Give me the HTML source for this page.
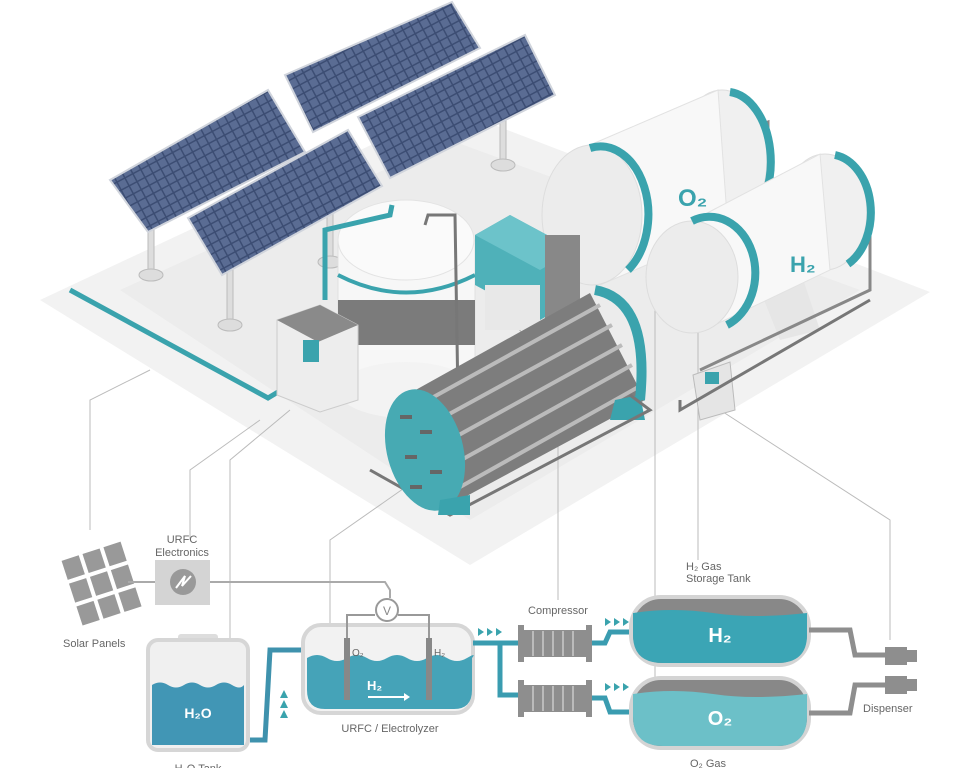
<!DOCTYPE html>
<html><head><meta charset="utf-8"><style>
html,body{margin:0;padding:0;background:#fff;}
svg{display:block;font-family:"Liberation Sans",sans-serif;}
</style></head><body>
<svg width="960" height="768" viewBox="0 0 960 768" xmlns="http://www.w3.org/2000/svg">
<defs>
<pattern id="cells" width="9" height="9" patternUnits="userSpaceOnUse" patternTransform="rotate(-28)">
<rect width="9" height="9" fill="#3c4d73"/><rect x="0.5" y="0.5" width="7.5" height="7.5" fill="#5a6c93"/>
</pattern>
</defs>
<polygon points="40,300 450,108 930,292 470,565" fill="#f2f2f2"/>
<polygon points="120,290 450,140 860,290 470,520" fill="#ececec"/>
<g stroke="#bbb" stroke-width="1" fill="none">
<polyline points="90,530 90,400 150,370"/>
<polyline points="230,655 230,460 290,410"/>
<polyline points="330,630 330,540 430,470"/>
<polyline points="558,600 558,370 510,320"/>
<line x1="655" y1="200" x2="655" y2="690"/>
<line x1="698" y1="290" x2="698" y2="560"/>
<polyline points="890,640 890,520 720,410"/>
<polyline points="190,540 190,470 260,420"/>
</g>
<g fill="#ddd" stroke="#bbb">
<rect x="148" y="230" width="6" height="45"/><ellipse cx="151" cy="275" rx="12" ry="6"/>
<rect x="227" y="270" width="6" height="55"/><ellipse cx="230" cy="325" rx="12" ry="6"/>
<rect x="327" y="200" width="6" height="60"/><ellipse cx="330" cy="262" rx="12" ry="6"/>
<rect x="500" y="110" width="6" height="55"/><ellipse cx="503" cy="165" rx="12" ry="6"/>
</g>
<g stroke="#d0d4dc" stroke-width="2">
<polygon points="110,180 268,90 305,152 148,232" fill="url(#cells)"/>
<polygon points="285,75 452,2 480,48 313,132" fill="url(#cells)"/>
<polygon points="188,218 348,130 382,186 222,275" fill="url(#cells)"/>
<polygon points="358,117 525,35 555,95 390,178" fill="url(#cells)"/>
</g>
<polyline points="70,290 268,398 278,392" fill="none" stroke="#3aa3ad" stroke-width="5"/>
<!-- O2 tank -->
<polyline points="760,125 768,122 768,220" fill="none" stroke="#888" stroke-width="3"/>
<ellipse cx="722" cy="160" rx="45" ry="70" fill="#f0f0f0" stroke="#ddd"/>
<polygon points="590,145 718,90 728,230 600,285" fill="#f8f8f8" stroke="#e2e2e2"/>
<path d="M730,92 A45,70 0 0 1 745,225" fill="none" stroke="#3aa3ad" stroke-width="8"/>
<ellipse cx="592" cy="215" rx="50" ry="70" fill="#ececec" stroke="#ddd"/>
<path d="M590,148 A48,68 0 0 1 628,270" fill="none" stroke="#3aa3ad" stroke-width="8"/>
<text x="678" y="206" font-size="24" font-weight="bold" fill="#3aa3ad">O₂</text>
<!-- H2 tank -->
<polygon points="760,290 800,270 820,330 780,340" fill="#e6e6e6"/>
<polyline points="858,190 870,190 870,290 700,370" fill="none" stroke="#888" stroke-width="3"/>
<ellipse cx="825" cy="212" rx="42" ry="58" fill="#f0f0f0" stroke="#ddd"/>
<polygon points="690,222 820,154 830,270 700,332" fill="#f8f8f8" stroke="#e2e2e2"/>
<path d="M835,155 A42,58 0 0 1 848,264" fill="none" stroke="#3aa3ad" stroke-width="8"/>
<ellipse cx="692" cy="277" rx="46" ry="56" fill="#ececec" stroke="#ddd"/>
<path d="M692,221 A44,54 0 0 1 727,325" fill="none" stroke="#3aa3ad" stroke-width="8"/>
<text x="790" y="272" font-size="22" font-weight="bold" fill="#3aa3ad">H₂</text>
<!-- central tank -->
<rect x="338" y="240" width="137" height="150" fill="#f7f7f7" stroke="#e0e0e0"/>
<ellipse cx="406" cy="390" rx="68" ry="28" fill="#f3f3f3"/>
<rect x="338" y="300" width="137" height="45" fill="#7b7b7b"/>
<ellipse cx="406" cy="240" rx="68" ry="40" fill="#fafafa" stroke="#e3e3e3"/>
<path d="M338,275 Q406,310 475,275" fill="none" stroke="#3aa3ad" stroke-width="4"/>
<polyline points="325,300 325,230 390,215 392,205" fill="none" stroke="#3aa3ad" stroke-width="5"/>
<polyline points="425,225 428,215 455,215 458,400" fill="none" stroke="#777" stroke-width="3"/>
<!-- teal box -->
<polygon points="475,235 510,215 575,250 575,300 540,320 475,285" fill="#4fb1b9"/>
<polygon points="475,235 510,215 575,250 540,270" fill="#6cc3ca"/>
<rect x="545" y="235" width="35" height="90" fill="#888"/>
<rect x="485" y="285" width="55" height="45" fill="#e8e8e8"/>
<!-- cabinet -->
<polygon points="277,320 320,305 358,325 358,400 320,412 277,395" fill="#ededed" stroke="#ccc"/>
<polygon points="277,320 320,305 358,325 318,342" fill="#8a8a8a"/>
<rect x="303" y="340" width="16" height="22" fill="#3aa3ad"/>
<!-- electrolyzer -->
<polygon points="403,397 590,293 645,400 450,505" fill="#7d7d7d"/>
<g stroke="#bbb" stroke-width="4">
<line x1="410" y1="410" x2="600" y2="305"/><line x1="420" y1="430" x2="612" y2="325"/>
<line x1="428" y1="452" x2="622" y2="345"/><line x1="436" y1="474" x2="632" y2="365"/>
<line x1="444" y1="496" x2="640" y2="386"/>
</g>
<path d="M595,290 Q650,300 640,400" fill="none" stroke="#3aa3ad" stroke-width="10"/>
<polygon points="615,400 640,395 645,420 610,420" fill="#3aa3ad"/>
<polyline points="370,470 450,515 650,410 630,395" fill="none" stroke="#777" stroke-width="3"/>
<ellipse cx="425" cy="450" rx="38" ry="62" transform="rotate(-15 425 450)" fill="#47aab3"/>
<polygon points="440,500 470,495 470,515 438,515" fill="#3aa3ad"/>
<g fill="#666"><rect x="400" y="415" width="12" height="4"/><rect x="420" y="430" width="12" height="4"/><rect x="405" y="455" width="12" height="4"/><rect x="430" y="470" width="12" height="4"/><rect x="410" y="485" width="12" height="4"/></g>
<!-- dispenser panel -->
<polygon points="693,375 730,362 735,410 700,420" fill="#e5e5e5" stroke="#bbb"/>
<rect x="705" y="372" width="14" height="12" fill="#3aa3ad"/>
<polyline points="680,400 680,410 870,300" fill="none" stroke="#777" stroke-width="3"/>

<!-- ===== bottom diagram ===== -->
<g fill="#999">
<g transform="rotate(-18 100 582)">
<rect x="70" y="550" width="18" height="20"/><rect x="92" y="550" width="18" height="20"/><rect x="114" y="550" width="18" height="20"/>
<rect x="70" y="574" width="18" height="20"/><rect x="92" y="574" width="18" height="20"/><rect x="114" y="574" width="18" height="20"/>
<rect x="70" y="598" width="18" height="20"/><rect x="92" y="598" width="18" height="20"/><rect x="114" y="598" width="18" height="20"/>
</g></g>
<text x="63" y="647" font-size="11" fill="#666">Solar Panels</text>
<text x="182" y="543" font-size="11" fill="#666" text-anchor="middle">URFC</text>
<text x="182" y="556" font-size="11" fill="#666" text-anchor="middle">Electronics</text>
<polyline points="128,582 385,582 390,590 390,598" fill="none" stroke="#aaa" stroke-width="2"/>
<rect x="155" y="560" width="55" height="45" fill="#d4d4d4"/>
<circle cx="183" cy="582" r="13" fill="#999"/>
<polyline points="176,588 185,576 182,586 191,576" fill="none" stroke="#fff" stroke-width="2"/>
<rect x="178" y="634" width="40" height="10" rx="3" fill="#ddd"/>
<rect x="148" y="640" width="100" height="110" rx="10" fill="#f0f0f0" stroke="#d6d6d6" stroke-width="4"/>
<path d="M152,685 q8,-5 16,0 t16,0 t16,0 t16,0 t16,0 t12,0 V745 H152 Z" fill="#4196b5"/>
<text x="198" y="718" font-size="14" font-weight="bold" fill="#fff" text-anchor="middle">H₂O</text>
<text x="198" y="772" font-size="11" fill="#666" text-anchor="middle">H₂O Tank</text>
<polyline points="250,740 265,740 270,650 305,650" fill="none" stroke="#3f92ad" stroke-width="5"/>
<g fill="#3aa3ad"><polygon points="284,690 288,698 280,698"/><polygon points="284,700 288,708 280,708"/><polygon points="284,710 288,718 280,718"/></g>
<rect x="303" y="625" width="170" height="88" rx="18" fill="#f2f2f2" stroke="#d6d6d6" stroke-width="4"/>
<path d="M307,658 q10,-6 20,0 t20,0 t20,0 t20,0 t20,0 t20,0 t20,0 t20,0 t5,0 V690 q0,19 -18,19 H325 q-18,0 -18,-19 Z" fill="#45a3b8"/>
<polyline points="347,655 347,615 375,615" fill="none" stroke="#999" stroke-width="2"/>
<polyline points="429,655 429,615 398,615" fill="none" stroke="#999" stroke-width="2"/>
<circle cx="387" cy="610" r="11" fill="#fff" stroke="#999" stroke-width="2"/>
<text x="387" y="615" font-size="12" fill="#888" text-anchor="middle">V</text>
<rect x="344" y="638" width="6" height="62" fill="#888"/><rect x="426" y="638" width="6" height="62" fill="#888"/>
<text x="352" y="656" font-size="10" fill="#666">O₂</text><text x="434" y="656" font-size="10" fill="#666">H₂</text>
<text x="367" y="690" font-size="13" font-weight="bold" fill="#fff">H₂</text>
<line x1="368" y1="697" x2="404" y2="697" stroke="#fff" stroke-width="2"/><polygon points="404,693 410,697 404,701" fill="#fff"/>
<text x="390" y="732" font-size="11" fill="#666" text-anchor="middle">URFC / Electrolyzer</text>
<g fill="#3aa3ad"><polygon points="478,628 484,632 478,636"/><polygon points="487,628 493,632 487,636"/><polygon points="496,628 502,632 496,636"/></g>
<polyline points="473,643 518,643" fill="none" stroke="#3a9cb0" stroke-width="5"/>
<polyline points="500,643 500,695 518,695" fill="none" stroke="#3a9cb0" stroke-width="5"/>
<text x="558" y="614" font-size="11" fill="#666" text-anchor="middle">Compressor</text>
<g fill="#8e8e8e">
<rect x="518" y="625" width="6" height="37"/><rect x="586" y="625" width="6" height="37"/><rect x="524" y="630" width="62" height="27"/>
<rect x="518" y="680" width="6" height="37"/><rect x="586" y="680" width="6" height="37"/><rect x="524" y="685" width="62" height="27"/>
</g>
<g stroke="#bbb" stroke-width="2"><line x1="533" y1="631" x2="533" y2="656"/><line x1="543" y1="631" x2="543" y2="656"/><line x1="553" y1="631" x2="553" y2="656"/><line x1="563" y1="631" x2="563" y2="656"/><line x1="573" y1="631" x2="573" y2="656"/>
<line x1="533" y1="686" x2="533" y2="711"/><line x1="543" y1="686" x2="543" y2="711"/><line x1="553" y1="686" x2="553" y2="711"/><line x1="563" y1="686" x2="563" y2="711"/><line x1="573" y1="686" x2="573" y2="711"/></g>
<g fill="#3aa3ad"><polygon points="605,618 611,622 605,626"/><polygon points="614,618 620,622 614,626"/><polygon points="623,618 629,622 623,626"/>
<polygon points="605,683 611,687 605,691"/><polygon points="614,683 620,687 614,691"/><polygon points="623,683 629,687 623,691"/></g>
<polyline points="592,643 605,643 610,632 632,632" fill="none" stroke="#3a9cb0" stroke-width="5"/>
<polyline points="592,698 605,698 610,712 632,712" fill="none" stroke="#3a9cb0" stroke-width="5"/>
<text x="686" y="570" font-size="11" fill="#666">H₂ Gas</text>
<text x="686" y="582" font-size="11" fill="#666">Storage Tank</text>
<rect x="631" y="597" width="178" height="68" rx="30" fill="#888" stroke="#d4d4d4" stroke-width="4"/>
<path d="M633,613 q40,-6 80,0 t94,0 V635 q0,28 -30,28 H663 q-30,0 -30,-28 Z" fill="#3ba5b5"/>
<text x="720" y="642" font-size="20" font-weight="bold" fill="#fff" text-anchor="middle">H₂</text>
<rect x="631" y="678" width="178" height="70" rx="30" fill="#888" stroke="#d4d4d4" stroke-width="4"/>
<path d="M633,694 q40,-6 80,0 t94,0 V716 q0,30 -30,30 H663 q-30,0 -30,-30 Z" fill="#6cc0c8"/>
<text x="720" y="725" font-size="20" font-weight="bold" fill="#fff" text-anchor="middle">O₂</text>
<text x="708" y="767" font-size="11" fill="#666" text-anchor="middle">O₂ Gas</text>
<polyline points="809,630 850,630 855,655 885,655" fill="none" stroke="#8e8e8e" stroke-width="5"/>
<polyline points="809,713 850,713 855,685 885,685" fill="none" stroke="#8e8e8e" stroke-width="5"/>
<g fill="#8e8e8e"><rect x="885" y="647" width="22" height="18"/><rect x="907" y="650" width="10" height="12"/>
<rect x="885" y="676" width="22" height="18"/><rect x="907" y="679" width="10" height="12"/></g>
<text x="863" y="712" font-size="11" fill="#666">Dispenser</text>
</svg>
</body></html>
